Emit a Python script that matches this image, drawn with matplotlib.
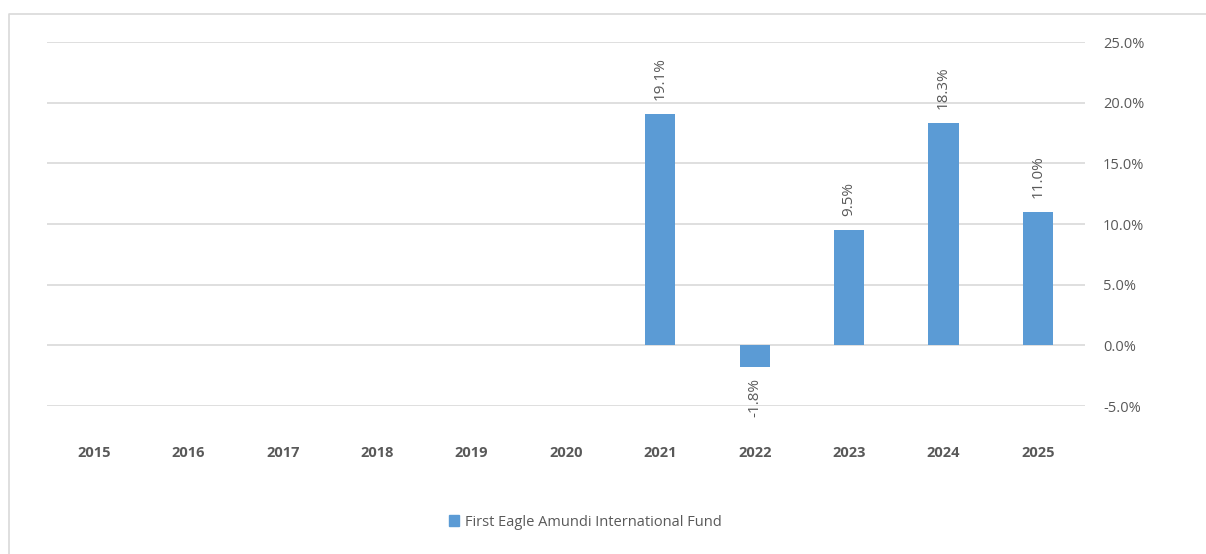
#!/usr/bin/env python3

import numpy as np
import matplotlib.pyplot as plt
from matplotlib.lines import Line2D
from matplotlib.patches import Patch
from matplotlib.ticker import FuncFormatter

years = ['2015', '2016', '2017', '2018', '2019', '2020',
         '2021', '2022', '2023', '2024', '2025']
returns = [None, None, None, None, None, None, 19.1, -1.8, 9.5, 18.3, 11.0]
fund_name = 'First Eagle Amundi International Fund'

bar_color = '#5B9BD5'
text_color = '#595959'
grid_color = '#D9D9D9'

plt.rcParams['font.family'] = ['Open Sans', 'DejaVu Sans']

W, H = 1206, 554
fig = plt.figure(figsize=(W / 100, H / 100), dpi=100)

# chart area border: only left and top edges show in the crop
fig.add_artist(Line2D([9 / W, 9 / W, 1.0], [0.0, 1 - 14 / H, 1 - 14 / H],
                      transform=fig.transFigure, color=grid_color,
                      linewidth=1.2))

ax = fig.add_axes([47 / W, 1 - 406 / H, (1085 - 47) / W, (406 - 42) / H])

xs = np.arange(len(years))
vals = np.array([np.nan if v is None else v for v in returns])
ax.bar(xs, np.nan_to_num(vals), width=0.32, color=bar_color, zorder=3)

for x, v in zip(xs, vals):
    if np.isnan(v):
        continue
    if v >= 0:
        ax.annotate('{:.1f}%'.format(v), (x, v), xytext=(0, 10),
                    textcoords='offset points', rotation=90, ha='center',
                    va='bottom', fontsize=11, color=text_color)
    else:
        ax.annotate('{:.1f}%'.format(v), (x, v), xytext=(0, -8),
                    textcoords='offset points', rotation=90, ha='center',
                    va='top', fontsize=11, color=text_color)

ax.set_xlim(-0.5, len(years) - 0.5)
ax.set_ylim(-5, 25)
ax.set_yticks(np.arange(-5, 26, 5))
ax.yaxis.set_major_formatter(FuncFormatter(lambda v, p: '{:.1f}%'.format(v)))
ax.yaxis.tick_right()
ax.tick_params(axis='y', length=0, pad=13, labelsize=10.5,
               labelcolor=text_color)
for lab in ax.get_yticklabels():
    lab.set_horizontalalignment('left')

ax.set_xticks(xs)
ax.set_xticklabels(years, fontweight='bold')
ax.tick_params(axis='x', length=0, pad=29, labelsize=10.5,
               labelcolor=text_color)

ax.grid(axis='y', color=grid_color, linewidth=1.2, zorder=0)
for s in ax.spines.values():
    s.set_visible(False)

fig.legend(handles=[Patch(color=bar_color, label=fund_name)],
           loc='center', bbox_to_anchor=(585 / W, 1 - 522 / H),
           frameon=False, fontsize=10.5, labelcolor=text_color,
           handlelength=0.7, handleheight=0.7, handletextpad=0.4)

fig.savefig('out.png', dpi=100)
